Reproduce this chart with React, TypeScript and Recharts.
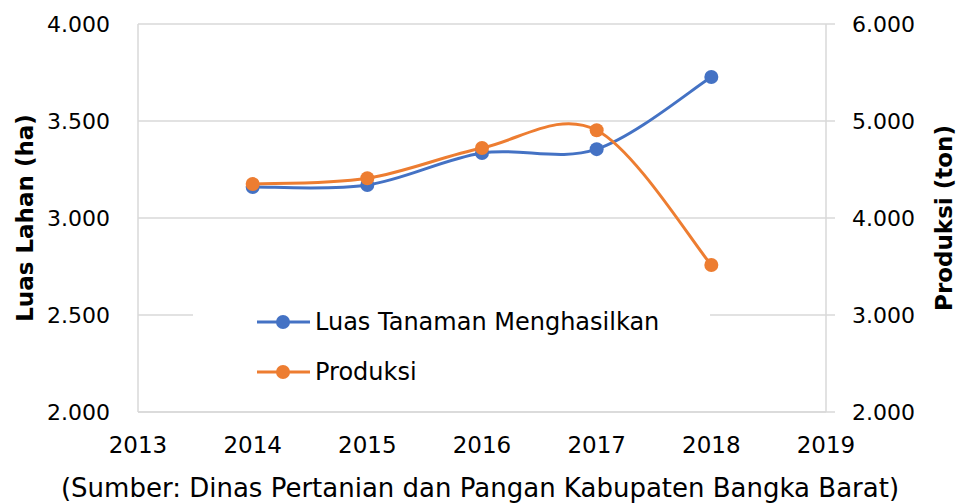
import React from 'react';
import { LineChart, Line, XAxis, YAxis, CartesianGrid, Legend } from 'recharts';

const years = [2014, 2015, 2016, 2017, 2018];
const luasTanaman = [3160, 3170, 3335, 3355, 3727];
const produksi = [4350, 4410, 4722, 4905, 3515];
const xTicks = [2013, 2014, 2015, 2016, 2017, 2018, 2019];
const leftTicks = [2000, 2500, 3000, 3500, 4000];
const rightTicks = [2000, 3000, 4000, 5000, 6000];

const data = years.map((y, i) => ({ year: y, luas: luasTanaman[i], produksi: produksi[i] }));

const FONT = '"DejaVu Sans", sans-serif';
const GRID = '#d9d9d9';
const BLUE = '#4472C4';
const ORANGE = '#ED7D31';

// 2000 -> "2.000"
const fmt = (v: number) => String(v).replace(/\B(?=(\d{3})+(?!\d))/g, '.');

// smoothing like excel (catmull-rom as bezier)
const smoothCurve = (context: any) => {
  let pts: number[][] = [];
  return {
    areaStart() {},
    areaEnd() {},
    lineStart() { pts = []; },
    point(x: number, y: number) { pts.push([+x, +y]); },
    lineEnd() {
      const n = pts.length;
      if (!n) return;
      context.moveTo(pts[0][0], pts[0][1]);
      for (let i = 0; i < n - 1; i++) {
        const p0 = pts[Math.max(i - 1, 0)];
        const p1 = pts[i];
        const p2 = pts[i + 1];
        const p3 = pts[Math.min(i + 2, n - 1)];
        context.bezierCurveTo(
          p1[0] + (p2[0] - p0[0]) / 6, p1[1] + (p2[1] - p0[1]) / 6,
          p2[0] - (p3[0] - p1[0]) / 6, p2[1] - (p3[1] - p1[1]) / 6,
          p2[0], p2[1]
        );
      }
    },
  };
};

const renderLegend = (props: any) => {
  const items = props.payload || [];
  return (
    <svg width={517} height={100} style={{ display: 'block' }}>
      <rect x={0} y={0} width={517} height={100} fill="#fff" />
      {items.map((it: any, i: number) => {
        const cy = 27 + i * 50;
        return (
          <g key={it.value}>
            <line x1={64} x2={117} y1={cy} y2={cy} stroke={it.color} strokeWidth={3} />
            <circle cx={90} cy={cy} r={7} fill={it.color} />
            <text x={122} y={cy} dominantBaseline="central" fontSize={24} fontFamily={FONT} fill="#000">{it.value}</text>
          </g>
        );
      })}
    </svg>
  );
};

export default function App() {
  return (
    <div style={{ position: 'absolute', left: 0, top: 0, width: 960, height: 504, background: '#fff' }}>
      <LineChart width={960} height={504} data={data} margin={{ top: 24, right: 0, left: 0, bottom: 0 }}>
        <CartesianGrid horizontal vertical={false} stroke={GRID} strokeWidth={1.5} yAxisId="left" />
        <XAxis
          dataKey="year"
          type="number"
          domain={[2013, 2019]}
          ticks={xTicks}
          stroke={GRID}
          strokeWidth={1.5}
          tickLine={false}
          tickSize={0}
          tickMargin={25}
          height={92}
          tick={{ fill: '#000', fontSize: 23, fontFamily: FONT }}
          label={{
            content: () => (
              <text x={480} y={488} textAnchor="middle" dominantBaseline="central" fontSize={26} fontFamily={FONT} fill="#000">
                (Sumber: Dinas Pertanian dan Pangan Kabupaten Bangka Barat)
              </text>
            ),
          }}
        />
        <YAxis
          yAxisId="left"
          width={138}
          domain={[2000, 4000]}
          ticks={leftTicks}
          tickFormatter={fmt}
          stroke={GRID}
          strokeWidth={1.5}
          tickLine={false}
          tickSize={0}
          tickMargin={28}
          tick={{ fill: '#000', fontSize: 22, fontFamily: FONT }}
          label={{
            content: () => (
              <text x={25} y={218} transform="rotate(-90 25 218)" textAnchor="middle" dominantBaseline="central" fontSize={23} fontWeight="bold" fontFamily={FONT} fill="#000">
                Luas Lahan (ha)
              </text>
            ),
          }}
        />
        <YAxis
          yAxisId="right"
          orientation="right"
          width={134}
          domain={[2000, 6000]}
          ticks={rightTicks}
          tickFormatter={fmt}
          stroke={GRID}
          strokeWidth={1.5}
          tickSize={9}
          tickMargin={17}
          tick={{ fill: '#000', fontSize: 22, fontFamily: FONT }}
          label={{
            content: () => (
              <text x={944} y={218} transform="rotate(-90 944 218)" textAnchor="middle" dominantBaseline="central" fontSize={23} fontWeight="bold" fontFamily={FONT} fill="#000">
                Produksi (ton)
              </text>
            ),
          }}
        />
        <Legend
          layout="vertical"
          align="center"
          verticalAlign="middle"
          content={renderLegend}
          wrapperStyle={{ position: 'absolute', left: 193, top: 295, width: 517, height: 100 }}
        />
        <Line
          yAxisId="left"
          dataKey="luas"
          name="Luas Tanaman Menghasilkan"
          type={smoothCurve as any}
          stroke={BLUE}
          strokeWidth={3}
          dot={{ r: 7, fill: BLUE, stroke: BLUE, strokeWidth: 0 }}
          isAnimationActive={false}
        />
        <Line
          yAxisId="right"
          dataKey="produksi"
          name="Produksi"
          type={smoothCurve as any}
          stroke={ORANGE}
          strokeWidth={3}
          dot={{ r: 7, fill: ORANGE, stroke: ORANGE, strokeWidth: 0 }}
          isAnimationActive={false}
        />
      </LineChart>
    </div>
  );
}
